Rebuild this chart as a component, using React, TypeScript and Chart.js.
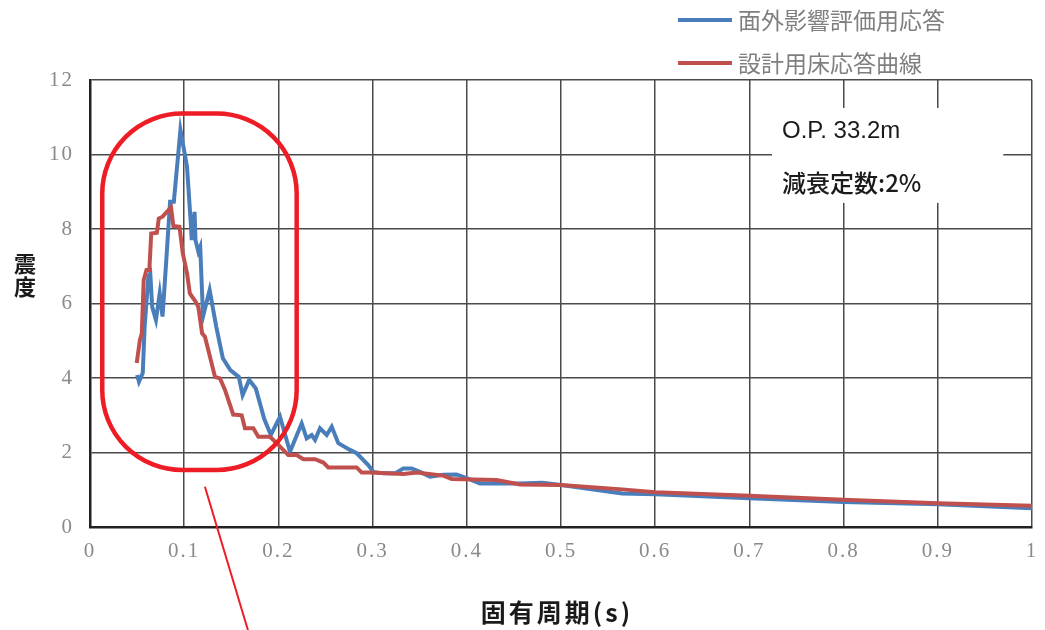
import React, { useEffect, useRef } from "react";
import { Chart, registerables } from "chart.js";

Chart.register(...registerables);

const blueLabel = "面外影響評価用応答";
const redLabel = "設計用床応答曲線";

const bluePeriod = [0.050, 0.052, 0.056, 0.058, 0.062, 0.064, 0.066, 0.070, 0.074, 0.077, 0.081, 0.085, 0.089, 0.096, 0.103, 0.107, 0.108, 0.111, 0.112, 0.115, 0.117, 0.120, 0.127, 0.134, 0.141, 0.149, 0.158, 0.162, 0.169, 0.176, 0.185, 0.192, 0.2017, 0.2123, 0.2247, 0.230, 0.2353, 0.2389, 0.2442, 0.2513, 0.2566, 0.2636, 0.276, 0.2831, 0.290, 0.2954, 0.3008, 0.3114, 0.3238, 0.3326, 0.3415, 0.3503, 0.361, 0.375, 0.389, 0.400, 0.414, 0.4388, 0.4565, 0.48, 0.50, 0.565, 0.60, 0.70, 0.80, 0.90, 1.00];
const blueIntensity = [4.08, 3.90, 4.13, 5.38, 6.72, 6.81, 5.91, 5.56, 6.27, 5.65, 7.17, 8.73, 8.73, 10.66, 9.67, 8.15, 7.70, 8.46, 7.70, 7.39, 7.52, 5.65, 6.36, 5.38, 4.53, 4.21, 4.03, 3.54, 3.95, 3.72, 2.90, 2.47, 2.96, 2.02, 2.78, 2.38, 2.47, 2.34, 2.65, 2.47, 2.69, 2.25, 2.07, 1.98, 1.80, 1.66, 1.48, 1.44, 1.44, 1.57, 1.57, 1.48, 1.35, 1.40, 1.41, 1.31, 1.17, 1.17, 1.17, 1.19, 1.13, 0.90, 0.88, 0.77, 0.67, 0.61, 0.50];

const redPeriod = [0.0496, 0.053, 0.055, 0.057, 0.060, 0.063, 0.065, 0.071, 0.073, 0.077, 0.086, 0.0885, 0.095, 0.0985, 0.103, 0.106, 0.112, 0.115, 0.119, 0.122, 0.1265, 0.1327, 0.138, 0.1433, 0.152, 0.161, 0.1645, 0.1734, 0.1787, 0.1911, 0.1982, 0.2105, 0.2194, 0.2264, 0.2389, 0.2477, 0.253, 0.2831, 0.2884, 0.2972, 0.3326, 0.3468, 0.375, 0.384, 0.4317, 0.4565, 0.50, 0.565, 0.60, 0.70, 0.80, 0.90, 1.00];
const redIntensity = [4.40, 5.02, 5.20, 6.63, 6.90, 6.90, 7.88, 7.90, 8.28, 8.33, 8.58, 8.08, 8.06, 7.35, 6.81, 6.27, 6.05, 5.91, 5.20, 5.11, 4.66, 4.03, 3.99, 3.68, 3.02, 3.00, 2.65, 2.65, 2.42, 2.42, 2.25, 1.93, 1.93, 1.82, 1.82, 1.73, 1.60, 1.60, 1.46, 1.46, 1.42, 1.46, 1.38, 1.29, 1.26, 1.14, 1.13, 1.01, 0.93, 0.84, 0.73, 0.64, 0.57];

const xTickLabels = ["0", "0.1", "0.2", "0.3", "0.4", "0.5", "0.6", "0.7", "0.8", "0.9", "1"];
const yTickLabels = ["0", "2", "4", "6", "8", "10", "12"];

const xTitle = "固有周期(s)";
const yTitle = "震度";
const noteLines = ["O.P. 33.2m", "減衰定数:2%"];

// highlighted region (data coordinates)
const highlightX = [0.013, 0.2194];
const highlightY = [1.53, 11.1];
const pointerX = [0.122, 0.1677];
const pointerY = [1.08, -2.77];

const BLUE = "#4A7EBB";
const RED = "#C0504D";
const CJK = "'Noto Sans CJK JP', 'Noto Sans', sans-serif";
const SERIF = "'Liberation Serif', 'DejaVu Serif', serif";

const spacingPlugin = {
  id: "spacing",
  beforeDraw(chart: any) {
    chart.ctx.letterSpacing = "2px";
  },
  beforeDatasetsDraw(chart: any) {
    chart.ctx.letterSpacing = "0px";
  },
};

const overlayPlugin = {
  id: "overlay",
  afterDraw(chart: any) {
    const ctx = chart.ctx;
    const xs = chart.scales.x;
    const ys = chart.scales.y;
    ctx.save();
    ctx.letterSpacing = "0px";

    // note box
    const bx = xs.getPixelForValue(0.724);
    const bx2 = xs.getPixelForValue(0.9695);
    const by = ys.getPixelForValue(11.25);
    const by2 = ys.getPixelForValue(8.7);
    ctx.fillStyle = "#ffffff";
    ctx.fillRect(bx, by, bx2 - bx, by2 - by);
    ctx.fillStyle = "#1a1a1a";
    ctx.textBaseline = "middle";
    ctx.textAlign = "left";
    ctx.font = "24px 'Liberation Sans', Arial, sans-serif";
    ctx.fillText(noteLines[0], bx + 10, ys.getPixelForValue(10.63));
    ctx.font = "500 24px " + CJK;
    ctx.fillText(noteLines[1], bx + 10, ys.getPixelForValue(9.25));

    // highlight stadium
    const hx1 = xs.getPixelForValue(highlightX[0]);
    const hx2 = xs.getPixelForValue(highlightX[1]);
    const hy1 = ys.getPixelForValue(highlightY[1]);
    const hy2 = ys.getPixelForValue(highlightY[0]);
    ctx.strokeStyle = "#EE1C25";
    ctx.lineWidth = 4.5;
    ctx.beginPath();
    ctx.roundRect(hx1, hy1, hx2 - hx1, hy2 - hy1, 80);
    ctx.stroke();

    // pointer line
    ctx.lineWidth = 2;
    ctx.beginPath();
    ctx.moveTo(xs.getPixelForValue(pointerX[0]), ys.getPixelForValue(pointerY[0]));
    ctx.lineTo(xs.getPixelForValue(pointerX[1]), ys.getPixelForValue(pointerY[1]));
    ctx.stroke();

    // legend
    const items = [
      { label: blueLabel, color: BLUE, y: 20 },
      { label: redLabel, color: RED, y: 63 },
    ];
    ctx.font = "23px " + CJK;
    ctx.textBaseline = "middle";
    items.forEach((it) => {
      ctx.strokeStyle = it.color;
      ctx.lineWidth = 4;
      ctx.beginPath();
      ctx.moveTo(678, it.y);
      ctx.lineTo(732, it.y);
      ctx.stroke();
      ctx.fillStyle = "#7f7f7f";
      ctx.fillText(it.label, 738, it.y);
    });

    // y-axis title, stacked characters
    ctx.fillStyle = "#1a1a1a";
    ctx.font = "bold 22px " + CJK;
    ctx.textAlign = "center";
    const chars = Array.from(yTitle);
    chars.forEach((c, i) => {
      ctx.fillText(c, 25, 264 + i * 23);
    });

    // x-axis title
    ctx.font = "bold 25px " + CJK;
    ctx.letterSpacing = "3px";
    ctx.fillText(xTitle, 557, 612);
    ctx.restore();
  },
};

export default function App() {
  const ref = useRef<HTMLCanvasElement>(null);
  useEffect(() => {
    if (!ref.current) return;
    const chart = new Chart(ref.current, {
      type: "line",
      data: {
        datasets: [
          {
            label: blueLabel,
            data: bluePeriod.map((x, i) => ({ x, y: blueIntensity[i] })),
            borderColor: BLUE,
            backgroundColor: BLUE,
            borderWidth: 4,
            pointRadius: 0,
            tension: 0,
            order: 2,
          },
          {
            label: redLabel,
            data: redPeriod.map((x, i) => ({ x, y: redIntensity[i] })),
            borderColor: RED,
            backgroundColor: RED,
            borderWidth: 4,
            pointRadius: 0,
            tension: 0,
            order: 1,
          },
        ],
      },
      options: {
        animation: false,
        responsive: false,
        devicePixelRatio: 1,
        layout: { padding: { top: 80, right: 13, left: 0, bottom: 0 } },
        plugins: {
          legend: { display: false },
          tooltip: { enabled: false },
          title: { display: false },
        },
        scales: {
          x: {
            type: "linear",
            min: 0,
            max: 1,
            ticks: {
              stepSize: 0.1,
              color: "#8a8a8a",
              font: { family: SERIF, size: 21 },
              padding: 12,
              maxRotation: 0,
              callback: (_v: any, i: number) => xTickLabels[i],
            },
            grid: { color: "#4a4a4a", lineWidth: 1.5, drawTicks: false },
            border: { color: "#222", width: 2.5 },
            afterFit: (s: any) => {
              s.height = 103;
              s.paddingRight = 0;
              s.paddingLeft = 0;
            },
          },
          y: {
            type: "linear",
            min: 0,
            max: 12,
            ticks: {
              stepSize: 2,
              color: "#8a8a8a",
              font: { family: SERIF, size: 21 },
              padding: 16,
              callback: (_v: any, i: number) => yTickLabels[i],
            },
            grid: { color: "#4a4a4a", lineWidth: 1.5, drawTicks: false },
            border: { color: "#222", width: 2.5 },
            afterFit: (s: any) => {
              s.width = 90;
              s.paddingTop = 0;
              s.paddingBottom = 0;
            },
          },
        },
      },
      plugins: [spacingPlugin, overlayPlugin],
    });
    return () => chart.destroy();
  }, []);
  return (
    <div style={{ position: "fixed", left: 0, top: 0, width: 1045, height: 630, background: "#fff" }}>
      <canvas ref={ref} width={1045} height={630} />
    </div>
  );
}
